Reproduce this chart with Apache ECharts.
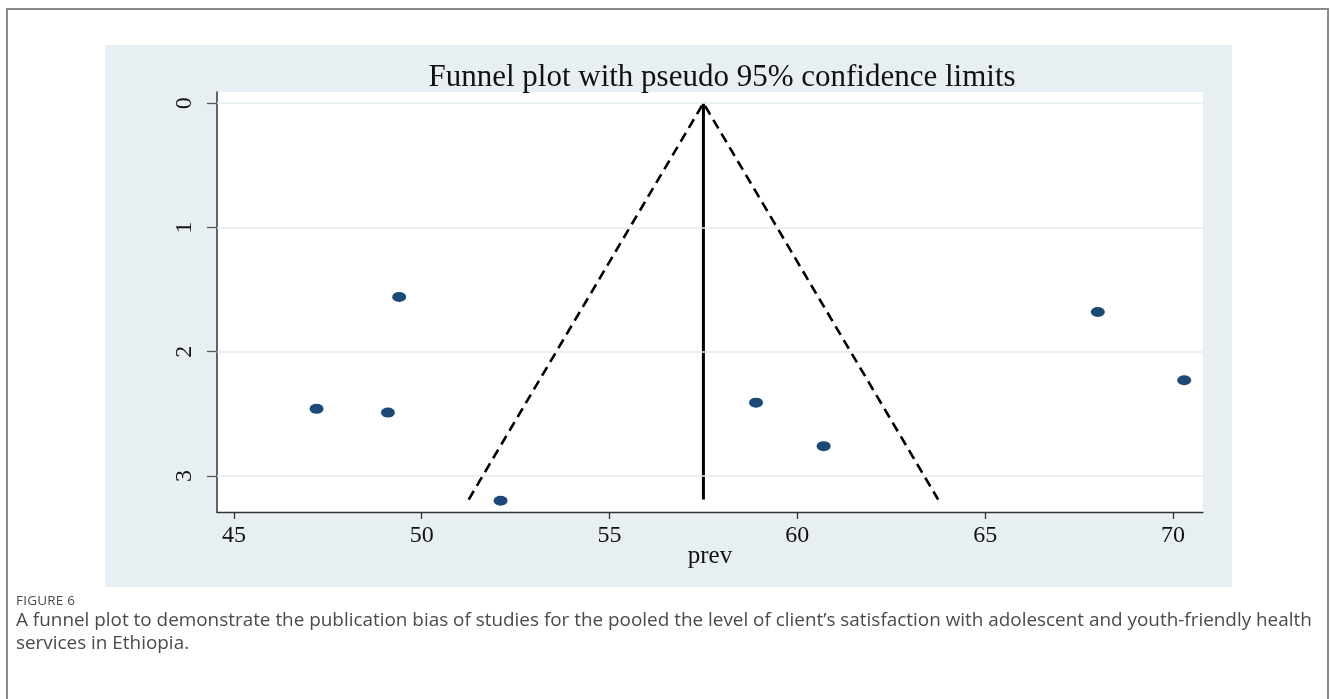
<!DOCTYPE html>
<html><head><meta charset="utf-8">
<script src="https://cdn.jsdelivr.net/npm/echarts@6/dist/echarts.min.js"></script>
<style>
html,body{margin:0;padding:0;background:#fff;}
#chart{width:1330px;height:699px;position:absolute;left:0;top:0;}
.cap{position:absolute;font-family:"Open Sans",sans-serif;color:#4a4a4a;white-space:nowrap;}
</style></head><body>
<div id="chart"></div>
<div class="cap" style="left:16px;top:591px;font-size:13.5px;letter-spacing:0.2px;">FIGURE 6</div>
<div class="cap" style="left:16px;top:608px;font-size:18.9px;line-height:22.5px;">A funnel plot to demonstrate the publication bias of studies for the pooled the level of client’s satisfaction with adolescent and youth-friendly health<br>services in Ethiopia.</div>
<script>
const titleText = 'Funnel plot with pseudo 95% confidence limits';
const xName = 'prev';
const xTickValues = [45, 50, 55, 60, 65, 70];
const yTickValues = [0, 1, 2, 3];
const studyPrev = [47.2, 49.4, 49.1, 52.1, 58.9, 60.7, 68.0, 70.3];
const studySE   = [2.46, 1.56, 2.49, 3.20, 2.41, 2.76, 1.68, 2.23];
const funnelPrev = [51.25, 57.5, 63.75];
const funnelSE   = [3.19, 0, 3.19];
const centerPrev = [57.5, 57.5];
const centerSE   = [0, 3.19];

const serif = '"Liberation Serif", "Times New Roman", serif';
const chart = echarts.init(document.getElementById('chart'), null, {renderer: 'canvas'});
const option = {
  animation: false,
  title: {
    text: titleText, left: 717, top: 57, textAlign: 'center',
    textStyle: {fontFamily: serif, fontSize: 31, fontWeight: 'normal', color: '#111'}
  },
  graphic: [
    {type: 'rect', z: -3, shape: {x: 7, y: 9, width: 1321, height: 720}, style: {fill: '#fff', stroke: '#8a8a8a', lineWidth: 2}},
    {type: 'rect', z: -2, shape: {x: 105, y: 45, width: 1127, height: 542}, style: {fill: '#e8eff3'}},
    {type: 'rect', z: -1, shape: {x: 217, y: 92, width: 986, height: 420}, style: {fill: '#ffffff'}}
  ],
  grid: {left: 217, top: 92, right: 127, bottom: 187, containLabel: false},
  xAxis: {
    type: 'value', min: 44.55, max: 70.8, position: 'bottom',
    name: xName, nameLocation: 'middle', nameGap: 32, nameMoveOverlap: false,
    nameTextStyle: {fontFamily: serif, fontSize: 25, color: '#111'},
    axisLine: {show: true, onZero: false, lineStyle: {color: '#333', width: 1.3}},
    axisTick: {show: true, customValues: xTickValues, length: 7, lineStyle: {color: '#333', width: 1.3}},
    axisLabel: {customValues: xTickValues, margin: 12, fontFamily: serif, fontSize: 24, color: '#111'},
    splitLine: {show: false}
  },
  yAxis: {
    type: 'value', inverse: true, min: -0.09, max: 3.29,
    axisLine: {show: true, onZero: false, lineStyle: {color: '#333', width: 1.5}},
    axisTick: {show: true, customValues: yTickValues, length: 10, lineStyle: {color: '#555', width: 1.3}},
    axisLabel: {customValues: yTickValues, rotate: 90, margin: 20, fontFamily: serif, fontSize: 24, color: '#111'},
    splitLine: {show: false}
  },
  series: [
    {
      type: 'line', data: [], silent: true, z: 1,
      markLine: {
        silent: true, symbol: ['none', 'none'], label: {show: false},
        lineStyle: {type: 'solid', color: '#e3ecf0', width: 1.5},
        data: yTickValues.map(v => ({yAxis: v}))
      }
    },
    {
      type: 'line', data: funnelPrev.map((x, i) => [x, funnelSE[i]]),
      showSymbol: false, symbol: 'none', silent: true, z: 2,
      lineStyle: {color: '#000', width: 2.6, type: [10, 6]}
    },
    {
      type: 'line', data: centerPrev.map((x, i) => [x, centerSE[i]]),
      showSymbol: false, symbol: 'none', silent: true, z: 2,
      lineStyle: {color: '#000', width: 3}
    },
    {
      type: 'scatter', data: studyPrev.map((x, i) => [x, studySE[i]]),
      symbol: 'circle', symbolSize: [14, 10], z: 3,
      itemStyle: {color: '#1b4a78', opacity: 1}
    }
  ]
};
chart.setOption(option);
</script>
</body></html>
